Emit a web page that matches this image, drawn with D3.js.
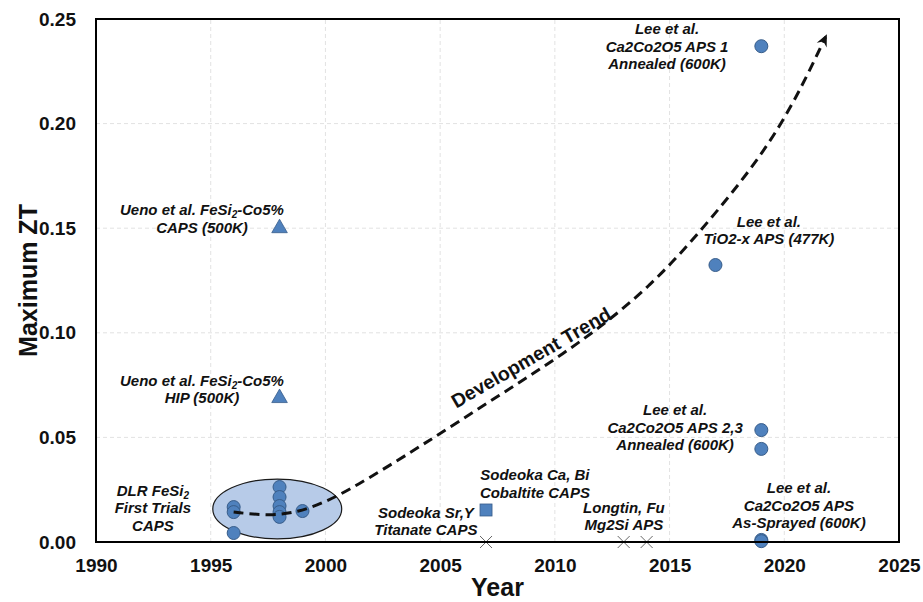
<!DOCTYPE html>
<html>
<head>
<meta charset="utf-8">
<script src="https://cdn.jsdelivr.net/npm/d3@7"></script>
<style>
  body { margin: 0; background: #fff; }
  svg { display: block; }
  text { font-family: Arial, "Liberation Sans", Helvetica, sans-serif; }
</style>
</head>
<body>
<svg id="chart" width="923" height="602"></svg>
<script>
// ---- data ----
const xTicks = [1990, 1995, 2000, 2005, 2010, 2015, 2020, 2025];
const yTicks = [0, 0.05, 0.10, 0.15, 0.20, 0.25];

// circles: oxide / silicide coatings
const circleYears = [1996, 1996, 1996, 1998, 1998, 1998, 1998, 1998, 1999, 2017, 2019, 2019, 2019, 2019, 2019];
const circleZT    = [0.0167, 0.0143, 0.0043, 0.0263, 0.0215, 0.0172, 0.0143, 0.0120, 0.0148, 0.1324, 0.2370, 0.0535, 0.0445, 0.0010, 0.0004];

// triangles: Ueno et al. FeSi2-Co5%
const triangleYears = [1998, 1998];
const triangleZT    = [0.1500, 0.0688];

// square: Sodeoka cobaltite
const squareYears = [2007];
const squareZT    = [0.0153];

// crosses: zero-ZT reports
const crossYears = [2007, 2013, 2014];
const crossZT    = [0, 0, 0];

// development trend path (year, ZT)
const trendYears = [1996.0, 1997.6, 1998.8, 1999.9, 2001.2, 2004.1, 2007.6, 2011.0, 2014.2, 2016.9, 2019.8, 2021.8];
const trendZT    = [0.0143, 0.0124, 0.0143, 0.0186, 0.0258, 0.0454, 0.0703, 0.0942, 0.1219, 0.1554, 0.1955, 0.2414];

// early DLR cluster outline: centre (year, ZT) and half-widths
const clusterCentre = [1997.9, 0.0158];
const clusterRadius = [2.81, 0.0143];

// ---- layout ----
const svg = d3.select("#chart");
const margin = { left: 96, right: 24, top: 19, bottom: 60 };
const W = 923, H = 602;

const x = d3.scaleLinear().domain([1990, 2025]).range([margin.left, W - margin.right]);
const y = d3.scaleLinear().domain([0, 0.25]).range([H - margin.bottom, margin.top]);

const markFill = "#4f81bd", markStroke = "#385d8a";

// grid
const grid = svg.append("g");
grid.selectAll("line.gx").data(xTicks.slice(1, -1)).join("line")
  .attr("x1", d => x(d)).attr("x2", d => x(d))
  .attr("y1", y(0)).attr("y2", y(0.25))
  .attr("stroke", "#e2e2e2").attr("stroke-width", 1).attr("stroke-dasharray", "4,3");
grid.selectAll("line.gy").data(yTicks.slice(1, -1)).join("line")
  .attr("x1", x(1990)).attr("x2", x(2025))
  .attr("y1", d => y(d)).attr("y2", d => y(d))
  .attr("stroke", "#e2e2e2").attr("stroke-width", 1).attr("stroke-dasharray", "4,3");

// cluster ellipse
svg.append("ellipse")
  .attr("cx", x(clusterCentre[0])).attr("cy", y(clusterCentre[1]))
  .attr("rx", x(clusterCentre[0] + clusterRadius[0]) - x(clusterCentre[0]))
  .attr("ry", y(clusterCentre[1] - clusterRadius[1]) - y(clusterCentre[1]))
  .attr("fill", "#b7cbe8").attr("stroke", "#1a1a1a").attr("stroke-width", 1.2);

// crosses
const cs = 6;
svg.append("g").selectAll("path").data(d3.range(crossYears.length)).join("path")
  .attr("d", i => {
    const cx = x(crossYears[i]), cy = y(crossZT[i]);
    return `M${cx - cs},${cy - cs}L${cx + cs},${cy + cs}M${cx - cs},${cy + cs}L${cx + cs},${cy - cs}`;
  })
  .attr("stroke", "#666").attr("stroke-width", 1).attr("fill", "none");

// circles
svg.append("g").selectAll("circle").data(d3.range(circleYears.length)).join("circle")
  .attr("cx", i => x(circleYears[i])).attr("cy", i => y(circleZT[i])).attr("r", 6.5)
  .attr("fill", markFill).attr("stroke", markStroke).attr("stroke-width", 1);

// triangles
svg.append("g").selectAll("path").data(d3.range(triangleYears.length)).join("path")
  .attr("d", d3.symbol().type(d3.symbolTriangle).size(105))
  .attr("transform", i => `translate(${x(triangleYears[i])},${y(triangleZT[i])})`)
  .attr("fill", markFill).attr("stroke", markStroke).attr("stroke-width", 0.8);

// square
svg.append("g").selectAll("rect").data(d3.range(squareYears.length)).join("rect")
  .attr("x", i => x(squareYears[i]) - 6).attr("y", i => y(squareZT[i]) - 6)
  .attr("width", 12).attr("height", 12)
  .attr("fill", markFill).attr("stroke", markStroke).attr("stroke-width", 0.8);

// development trend (dashed curve with arrow head)
const trendPts = trendYears.map((t, i) => [x(t), y(trendZT[i])]);
svg.append("path")
  .attr("d", d3.line().curve(d3.curveBasis)(trendPts))
  .attr("fill", "none").attr("stroke", "#111").attr("stroke-width", 3)
  .attr("stroke-dasharray", "10,6");
{
  const [x1, y1] = trendPts[trendPts.length - 2];
  const [x2, y2] = trendPts[trendPts.length - 1];
  const ang = Math.atan2(y2 - y1, x2 - x1) * 180 / Math.PI;
  svg.append("path")
    .attr("d", "M3,0L-9,-5.5L-5,0L-9,5.5Z")
    .attr("transform", `translate(${x2},${y2}) rotate(${ang})`)
    .attr("fill", "#111");
}

svg.append("text")
  .attr("transform", `translate(${x(2009.0)},${y(0.0875)}) rotate(-30)`)
  .attr("text-anchor", "middle").attr("dominant-baseline", "middle")
  .attr("font-size", 19.5).attr("font-weight", "bold").attr("fill", "#111")
  .text("Development Trend");

// annotations: anchor (year, ZT of first baseline), lines
const notes = [
  { at: [2014.89, 0.2428], lines: ["Lee et al.", "Ca2Co2O5 APS 1", "Annealed (600K)"] },
  { at: [1994.62, 0.1561], lines: [["Ueno et al. FeSi", "2", "-Co5%"], "CAPS (500K)"] },
  { at: [1994.62, 0.0748], lines: [["Ueno et al. FeSi", "2", "-Co5%"], "HIP (500K)"] },
  { at: [2019.33, 0.1508], lines: ["Lee et al.", "TiO2-x APS (477K)"] },
  { at: [2015.24, 0.0605], lines: ["Lee et al.", "Ca2Co2O5 APS 2,3", "Annealed (600K)"] },
  { at: [2020.64, 0.0232], lines: ["Lee et al.", "Ca2Co2O5 APS", "As-Sprayed (600K)"] },
  { at: [1992.48, 0.0222], lines: [["DLR FeSi", "2", ""], "First Trials", "CAPS"] },
  { at: [2009.13, 0.0294], lines: ["Sodeoka Ca, Bi", "Cobaltite CAPS"] },
  { at: [2004.38, 0.0117], lines: ["Sodeoka Sr,Y", "Titanate CAPS"] },
  { at: [2013.01, 0.0141], lines: ["Longtin, Fu", "Mg2Si APS"] }
];
const lineGap = 17.5;
const noteG = svg.append("g")
  .attr("font-size", 15).attr("font-weight", "bold").attr("font-style", "italic")
  .attr("fill", "#111").attr("text-anchor", "middle");
notes.forEach(n => {
  n.lines.forEach((ln, k) => {
    const t = noteG.append("text")
      .attr("x", x(n.at[0])).attr("y", y(n.at[1]) + k * lineGap);
    if (Array.isArray(ln)) {
      t.append("tspan").text(ln[0]);
      t.append("tspan").attr("font-size", 10).attr("dy", 3).text(ln[1]);
      if (ln[2]) t.append("tspan").attr("dy", -3).text(ln[2]);
    } else {
      t.text(ln);
    }
  });
});

// frame
svg.append("rect")
  .attr("x", x(1990)).attr("y", y(0.25))
  .attr("width", x(2025) - x(1990)).attr("height", y(0) - y(0.25))
  .attr("fill", "none").attr("stroke", "#000").attr("stroke-width", 2);

// axes
const xAxis = svg.append("g").attr("transform", `translate(0,${y(0)})`)
  .call(d3.axisBottom(x).tickValues(xTicks).tickFormat(d3.format("d")).tickSize(0).tickPadding(17));
const yAxis = svg.append("g").attr("transform", `translate(${x(1990)},0)`)
  .call(d3.axisLeft(y).tickValues(yTicks).tickFormat(d3.format(".2f")).tickSize(0).tickPadding(20));
[xAxis, yAxis].forEach(a => {
  a.select(".domain").remove();
  a.selectAll("text").attr("font-size", 19).attr("font-weight", "bold").attr("fill", "#111")
    .attr("font-family", "Arial, 'Liberation Sans', sans-serif");
});

// axis titles
svg.append("text")
  .attr("x", (x(1990) + x(2025)) / 2).attr("y", 596)
  .attr("text-anchor", "middle").attr("font-size", 25).attr("font-weight", "bold").attr("fill", "#111")
  .text("Year");
svg.append("text")
  .attr("transform", `translate(37,${(y(0) + y(0.25)) / 2}) rotate(-90)`)
  .attr("text-anchor", "middle").attr("font-size", 25).attr("font-weight", "bold").attr("fill", "#111")
  .text("Maximum ZT");
</script>
</body>
</html>
